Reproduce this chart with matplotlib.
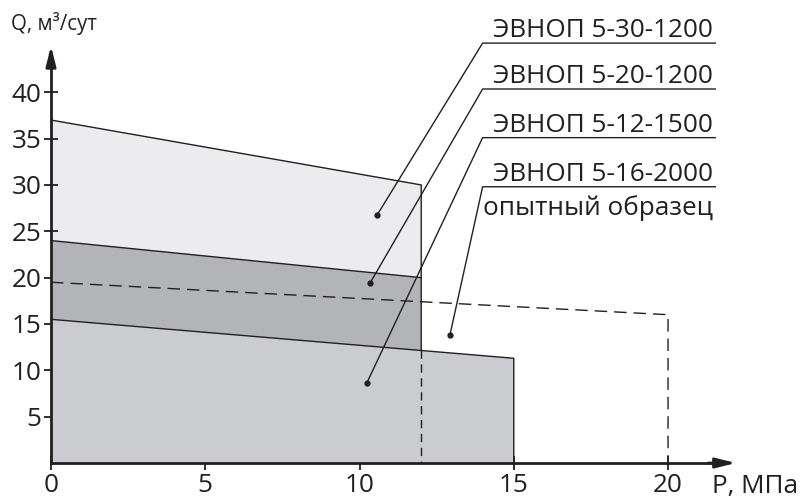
import matplotlib
matplotlib.use("Agg")
import matplotlib.pyplot as plt
from matplotlib.patches import Polygon

plt.rcParams["font.family"] = ["Open Sans", "DejaVu Sans"]

# operating envelopes, Q (m3/day) vs P (MPa)
P_MAX_1200 = 12.0
Q_5_30 = [37.0, 30.0]        # ЭВНОП 5-30-1200 at P = 0 and P = 12
Q_5_20 = [24.0, 20.0]        # ЭВНОП 5-20-1200 at P = 0 and P = 12
P_MAX_1500 = 15.0
Q_5_12 = [15.5, 11.3]        # ЭВНОП 5-12-1500 at P = 0 and P = 15
P_MAX_2000 = 20.0
Q_5_16 = [19.5, 16.0]        # ЭВНОП 5-16-2000 at P = 0 and P = 20

LABELS = ["ЭВНОП 5-30-1200", "ЭВНОП 5-20-1200", "ЭВНОП 5-12-1500", "ЭВНОП 5-16-2000"]
LABEL_Y = [45.3, 40.35, 35.1, 29.8]           # underline heights
DOT_XY = [(10.58, 26.8), (10.34, 19.4), (10.24, 8.66), (12.93, 13.8)]
NOTE = "опытный образец"

X_TICKS = [0, 5, 10, 15, 20]
Y_TICKS = [5, 10, 15, 20, 25, 30, 35, 40]

LIGHT = "#ececee"
DARK = "#b3b4b8"
MID = "#cbcccf"
INK = "#231f20"
FS = 18.8


def line_at(q, pmax, p):
    return q[0] + (q[1] - q[0]) * p / pmax


fig = plt.figure(figsize=(8.01, 5.0), dpi=100)
ax = fig.add_axes([0, 0, 1, 1])
ax.set_xlim(-1.653, 24.31)
ax.set_ylim(-3.99, 49.95)

q12_mid = line_at(Q_5_12, P_MAX_1500, P_MAX_1200)

# filled regions, back to front
ax.add_patch(Polygon([(0, 0), (0, Q_5_30[0]), (P_MAX_1200, Q_5_30[1]), (P_MAX_1200, 0)],
                     closed=True, facecolor=LIGHT, edgecolor="none", zorder=1))
ax.add_patch(Polygon([(0, 0), (0, Q_5_20[0]), (P_MAX_1200, Q_5_20[1]), (P_MAX_1200, 0)],
                     closed=True, facecolor=DARK, edgecolor="none", zorder=2))
ax.add_patch(Polygon([(0, 0), (0, Q_5_12[0]), (P_MAX_1500, Q_5_12[1]), (P_MAX_1500, 0)],
                     closed=True, facecolor=MID, edgecolor="none", zorder=3))

lw = 1.0
ax.plot([0, P_MAX_1200, P_MAX_1200], [Q_5_30[0], Q_5_30[1], q12_mid], color=INK, lw=lw, zorder=4)
ax.plot([0, P_MAX_1200], Q_5_20, color=INK, lw=lw, zorder=4)
ax.plot([0, P_MAX_1500, P_MAX_1500], [Q_5_12[0], Q_5_12[1], 0], color=INK, lw=lw, zorder=4)
ax.plot([P_MAX_1200, P_MAX_1200], [q12_mid, 0], color=INK, lw=lw, dashes=(6, 4), zorder=4)
ax.plot([0, P_MAX_2000, P_MAX_2000], [Q_5_16[0], Q_5_16[1], 0], color=INK, lw=lw,
        dashes=(9, 5), zorder=4)

# leader lines with labels
x_left, x_right = 13.99, 21.53
for label, y, (dx, dy) in zip(LABELS, LABEL_Y, DOT_XY):
    ax.plot([dx, x_left, x_right], [dy, y, y], color=INK, lw=1.0, zorder=5)
    ax.plot(dx, dy, "o", color=INK, ms=3.5, zorder=5)
    ax.text(x_right - 0.08, y + 0.65, label, ha="right", va="baseline", fontsize=FS, color=INK)
ax.text(x_right - 0.08, 26.75, NOTE, ha="right", va="baseline", fontsize=FS, color=INK)

# axes with arrows
for side in ("top", "right"):
    ax.spines[side].set_visible(False)
ax.spines["left"].set_position(("data", 0))
ax.spines["bottom"].set_position(("data", 0))
ax.spines["left"].set_bounds(0, 43.5)
ax.spines["bottom"].set_bounds(0, 21.7)
for side in ("left", "bottom"):
    ax.spines[side].set_linewidth(2.0)
    ax.spines[side].set_color(INK)
    ax.spines[side].set_zorder(6)

ax.annotate("", xy=(22.2, 0), xytext=(21.3, 0),
            arrowprops=dict(arrowstyle="-|>,head_length=1.2,head_width=0.3",
                            color=INK, lw=2.0, shrinkA=0, shrinkB=0), zorder=7)
ax.annotate("", xy=(0, 45.0), xytext=(0, 42.5),
            arrowprops=dict(arrowstyle="-|>,head_length=1.2,head_width=0.3",
                            color=INK, lw=2.0, shrinkA=0, shrinkB=0), zorder=7)

ax.set_xticks(X_TICKS)
ax.set_yticks(Y_TICKS)
ax.set_xticklabels([str(t) for t in X_TICKS])
ax.set_yticklabels([str(t) for t in Y_TICKS])
ax.tick_params(axis="both", direction="inout", length=10, width=1.3, color=INK,
               labelsize=FS, labelcolor=INK, pad=2)

ax.text(-1.3, 46.7, "Q, м³/сут", ha="left", va="baseline", fontsize=14.8, color=INK)
ax.text(21.43, -3.24, "P, МПа", ha="left", va="baseline", fontsize=FS, color=INK)

fig.savefig("out.png", dpi=100)
